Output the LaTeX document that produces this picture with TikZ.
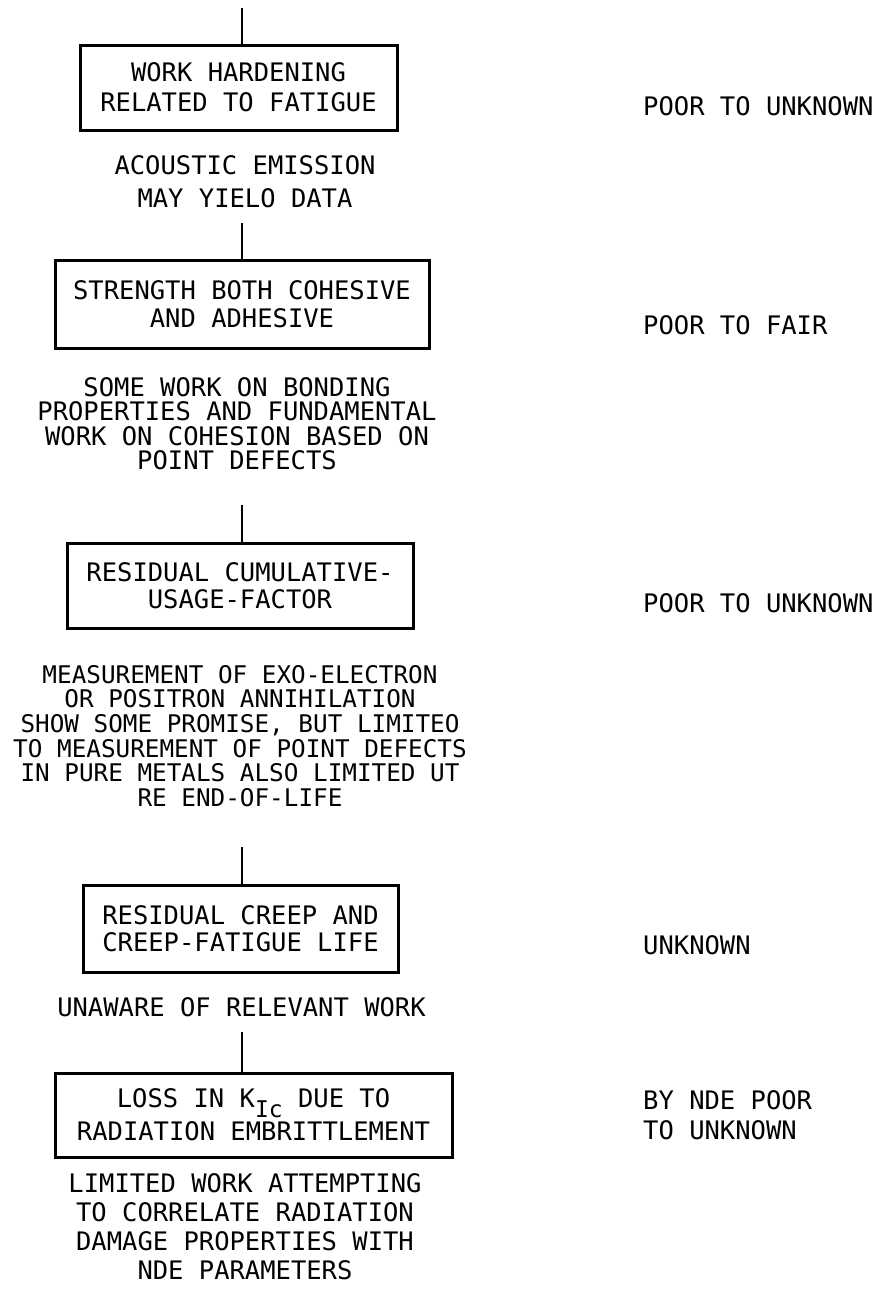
\documentclass[tikz,border=0pt]{standalone}
\usepackage{fontspec}
\setmainfont{DejaVu Sans Mono}
\usetikzlibrary{calc}

\begin{document}
\begin{tikzpicture}
    [
      x=1pt, y=-1pt,
      every node/.style={inner sep=0pt, font=\fontsize{25.5}{30}\selectfont},
      lead/.style={font=\fontsize{25.5}{#1}\selectfont},
      stage/.style={draw=black, line width=3pt, align=center},
      remark/.style={anchor=north, align=center},
      rating/.style={anchor=north west, align=left},
      link/.style={line width=2.6pt}
    ]
    \useasboundingbox (0,0) rectangle (876,1299);
    \node[stage, lead=30, minimum width=317pt, minimum height=85pt] (work) at (238.5,87.5)
      {WORK HARDENING\\RELATED TO FATIGUE};
    \node[remark, lead=33] (emission) at (245,155) {ACOUSTIC EMISSION\\MAY YIELO DATA};
    \node[stage, lead=28.3, minimum width=374pt, minimum height=88pt] (strength) at (242,304)
      {STRENGTH BOTH COHESIVE\\AND ADHESIVE};
    \node[remark, lead=24.5] (bonding) at (237,377)
      {SOME WORK ON BONDING\\PROPERTIES AND FUNDAMENTAL\\WORK ON COHESION BASED ON\\POINT DEFECTS};
    \node[stage, lead=27, minimum width=346pt, minimum height=85pt] (usage) at (240,585.5)
      {RESIDUAL CUMULATIVE-\\USAGE-FACTOR};
    \node[remark, font=\fontsize{24.3}{24.6}\selectfont] (exo) at (240,665)
      {MEASUREMENT OF EXO-ELECTRON\\OR POSITRON ANNIHILATION\\SHOW SOME PROMISE, BUT LIMITEO\\TO MEASUREMENT OF POINT DEFECTS\\IN PURE METALS ALSO LIMITED UT\\RE END-OF-LIFE};
    \node[stage, lead=27, minimum width=315pt, minimum height=87pt] (creep) at (240.5,928.5)
      {RESIDUAL CREEP AND\\CREEP-FATIGUE LIFE};
    \node[remark] (unaware) at (241.5,997) {UNAWARE OF RELEVANT WORK};
    \node[stage, lead=33, minimum width=397pt, minimum height=84pt] (kic) at (253.5,1115)
      {LOSS IN K\raisebox{-10pt}{\fontsize{23}{23}\selectfont Ic} DUE TO\\RADIATION EMBRITTLEMENT};
    \node[remark, lead=29] (correlate) at (245,1173)
      {LIMITED WORK ATTEMPTING\\TO CORRELATE RADIATION\\DAMAGE PROPERTIES WITH\\NDE PARAMETERS};
    \node[rating] (r-work) at (643,96) {POOR TO UNKNOWN};
    \node[rating] (r-strength) at (643,315) {POOR TO FAIR};
    \node[rating] (r-usage) at (643,593) {POOR TO UNKNOWN};
    \node[rating] (r-creep) at (643,935) {UNKNOWN};
    \node[rating, lead=30] (r-kic) at (643,1090) {BY NDE POOR\\TO UNKNOWN};
    \coordinate (feed) at (242,8);
    \coordinate (from-emission) at (242,223);
    \coordinate (from-bonding) at (242,505);
    \coordinate (from-exo) at (242,847);
    \coordinate (from-unaware) at (242,1032);
    \path[link]
      (feed) edge (feed |- work.north)
      (from-emission) edge (from-emission |- strength.north)
      (from-bonding) edge (from-bonding |- usage.north)
      (from-exo) edge (from-exo |- creep.north)
      (from-unaware) edge (from-unaware |- kic.north);
  \end{tikzpicture}
\end{document}
